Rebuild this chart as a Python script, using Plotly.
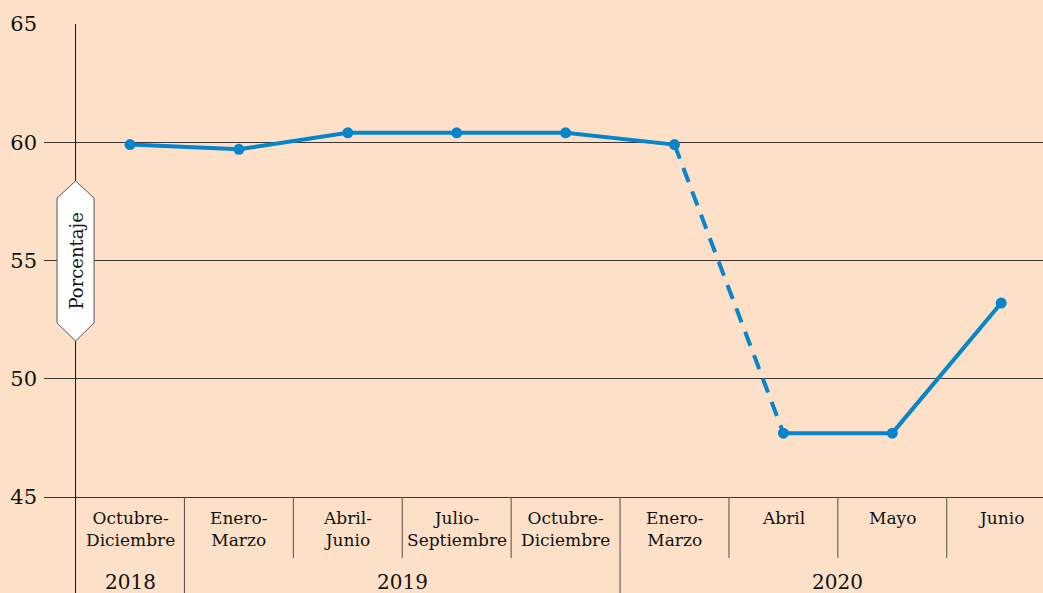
import plotly.graph_objects as go

# ---- data ----
categories = [
    "Octubre-<br>Diciembre", "Enero-<br>Marzo", "Abril-<br>Junio",
    "Julio-<br>Septiembre", "Octubre-<br>Diciembre", "Enero-<br>Marzo",
    "Abril", "Mayo", "Junio",
]
values = [59.9, 59.7, 60.4, 60.4, 60.4, 59.9, 47.7, 47.7, 53.2]
years = ["2018", "2019", "2020"]
year_spans = [(0, 0), (1, 4), (5, 8)]  # category index ranges for each year
y_ticks = [45, 50, 55, 60, 65]
y_title = "Porcentaje"

# ---- style / layout constants ----
W, H = 1043, 593
ML, MR, MT, MB = 44, 0, 24, 96
PW, PH = W - ML - MR, H - MT - MB
BG = "#FCE1C8"
BLUE = "#0784CA"
INK = "#111111"
GRID = "#3b3431"
SERIF = "DejaVu Serif"

step_px = 108.9
first_px = 130
x_lo = (ML - first_px) / step_px
x_hi = (W - MR - first_px) / step_px


def py(pix):
    """pixel row -> paper y"""
    return (H - MB - pix) / PH


def pxp(pix):
    """pixel column -> paper x"""
    return (pix - ML) / PW


def xpix(idx):
    return first_px + step_px * idx


xs = list(range(len(categories)))
solid_a = slice(0, 6)
dash_seg = slice(5, 7)
solid_b = slice(6, 9)

fig = go.Figure()
line_style = dict(color=BLUE, width=4)
fig.add_trace(go.Scatter(x=xs[solid_a], y=values[solid_a], mode="lines+markers",
                         line=line_style, marker=dict(size=11, color=BLUE),
                         hoverinfo="skip"))
fig.add_trace(go.Scatter(x=xs[dash_seg], y=values[dash_seg], mode="lines",
                         line=dict(color=BLUE, width=4, dash="15px,10px"),
                         hoverinfo="skip"))
fig.add_trace(go.Scatter(x=xs[solid_b], y=values[solid_b], mode="lines+markers",
                         line=line_style, marker=dict(size=11, color=BLUE),
                         hoverinfo="skip"))

shapes = []
annotations = []

# vertical y-axis line (at -0.5 category units) extending to the bottom
y_bottom = py(H)
shapes.append(dict(type="line", xref="x", yref="paper", x0=-0.5, x1=-0.5,
                   y0=y_bottom, y1=1, line=dict(color=INK, width=1)))

# category separators
year_bounds = set(s for s, e in year_spans[1:])
for i in range(1, len(categories)):
    is_year = i in year_bounds
    shapes.append(dict(type="line", xref="x", yref="paper", x0=i - 0.5, x1=i - 0.5,
                       y0=y_bottom if is_year else py(558), y1=0,
                       line=dict(color="#5a4c44", width=1)))

# category labels
for i, lab in enumerate(categories):
    annotations.append(dict(x=i, y=py(506), xref="x", yref="paper", text=lab,
                            showarrow=False, yanchor="top", xanchor="center",
                            font=dict(family=SERIF, size=17, color=INK),
                            align="center"))

# year labels
for yr, (s, e) in zip(years, year_spans):
    cx = (s + e) / 2
    annotations.append(dict(x=cx, y=py(582), xref="x", yref="paper", text=yr,
                            showarrow=False, yanchor="middle", xanchor="center",
                            font=dict(family=SERIF, size=20, color=INK)))

# hexagon label box for y title
cx_pix = xpix(-0.5)
hx0, hx1 = cx_pix - 18.5, cx_pix + 18.5
top, shoulder_t, shoulder_b, bot = 181, 198, 323, 341
pts = [(cx_pix, top), (hx1, shoulder_t), (hx1, shoulder_b), (cx_pix, bot),
       (hx0, shoulder_b), (hx0, shoulder_t)]
path = "M " + " L ".join(f"{pxp(a):.5f},{py(b):.5f}" for a, b in pts) + " Z"
shapes.append(dict(type="path", xref="paper", yref="paper", path=path,
                   fillcolor="white", line=dict(color="#555555", width=1),
                   layer="above"))
annotations.append(dict(x=pxp(cx_pix), y=py((top + bot) / 2), xref="paper", yref="paper",
                        text=y_title, textangle=-90, showarrow=False,
                        xanchor="center", yanchor="middle",
                        font=dict(family=SERIF, size=18, color=INK)))

fig.update_layout(
    width=W, height=H,
    margin=dict(l=ML, r=MR, t=MT, b=MB, pad=0),
    paper_bgcolor=BG, plot_bgcolor=BG,
    showlegend=False,
    shapes=shapes, annotations=annotations,
    xaxis=dict(range=[x_lo, x_hi], showgrid=False, zeroline=False,
               showticklabels=False, showline=True, linecolor=GRID, linewidth=1,
               fixedrange=True),
    yaxis=dict(range=[45, 65], tickvals=y_ticks, showgrid=True, gridcolor=GRID,
               gridwidth=1, zeroline=False, showline=False, ticks="",
               ticklabelstandoff=6,
               tickfont=dict(family=SERIF, size=21, color=INK), fixedrange=True),
)

fig.write_html("out.html",
               config={"displayModeBar": False},
               post_script="document.body.style.margin='0';"
                           "document.body.style.background='" + BG + "';")
